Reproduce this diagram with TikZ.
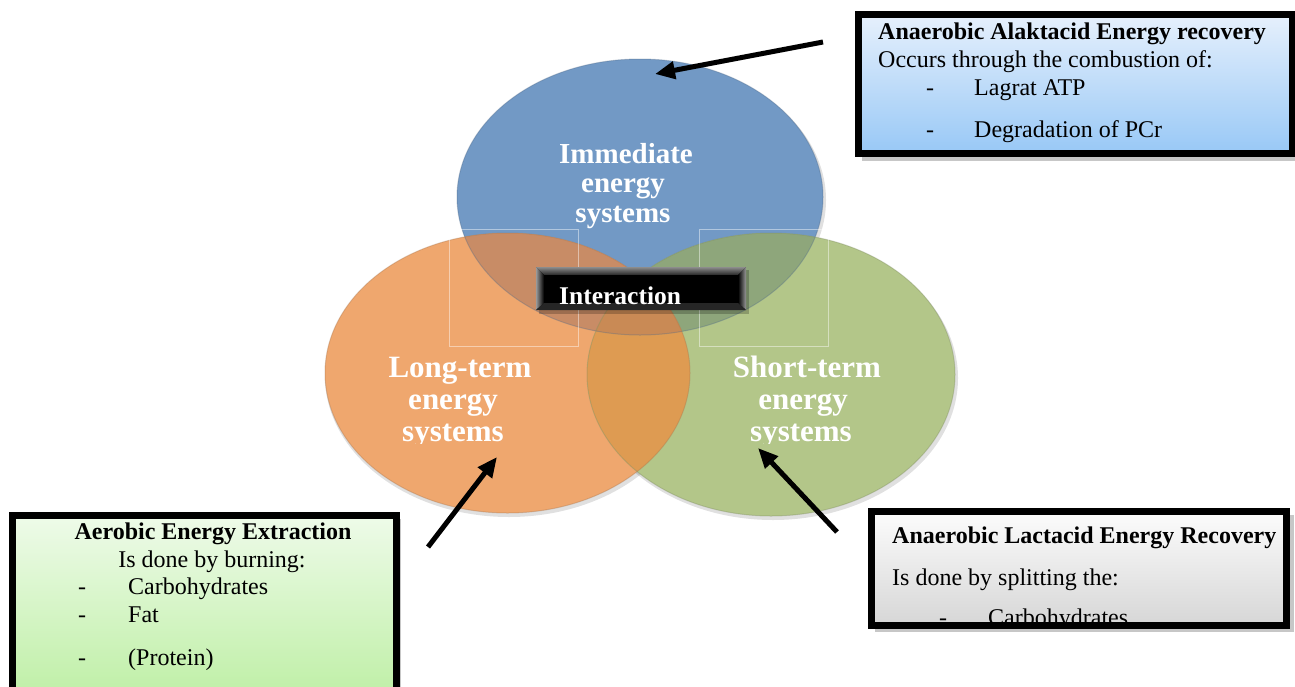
\documentclass[tikz,border=0pt]{standalone}
\usepackage{fontspec}
\setmainfont{Liberation Serif}
\usetikzlibrary{arrows.meta}
\definecolor{cblue}{HTML}{7299C5}
\definecolor{corange}{HTML}{EFA76E}
\definecolor{cgreen}{HTML}{B3C689}
\definecolor{cbo}{HTML}{C88C66}
\definecolor{cbg}{HTML}{8EA67B}
\definecolor{cog}{HTML}{DE9B52}
\definecolor{cbog}{HTML}{C98A55}
\begin{document}
\begin{tikzpicture}[x=1pt,y=-1pt,
  txt/.style={inner sep=0pt, anchor=base west, font=\fontsize{24}{28}\selectfont},
  btxt/.style={inner sep=0pt, anchor=base west, font=\fontsize{24}{28}\selectfont\bfseries},
  ctxt/.style={inner sep=0pt, anchor=base, text=white, font=\fontsize{31}{32}\selectfont\bfseries},
  itxt/.style={inner sep=0pt, anchor=base, text=white, font=\fontsize{29}{30}\selectfont\bfseries},
  arr/.style={line width=5pt, -{Triangle[length=20pt,width=17pt]}},
  frame/.style={line width=7pt, draw=black},
  boxshadow/.style={fill=black, opacity=0.22},
  faint/.style={draw=white, opacity=0.45, line width=0.8pt},
]
\clip (0,0) rectangle (1295,686);
\fill[white] (0,0) rectangle (1295,686);

% ellipse shadows
\fill[black, opacity=0.12] (642,200) ellipse [x radius=184pt, y radius=139pt];
\fill[black, opacity=0.12] (509,376) ellipse [x radius=184pt, y radius=141pt];
\fill[black, opacity=0.12] (773,378) ellipse [x radius=185pt, y radius=142pt];

% base ellipses
\fill[cblue] (640,197) ellipse [x radius=183pt, y radius=138pt];
\fill[corange] (507.5,373) ellipse [x radius=182.5pt, y radius=140pt];
\fill[cgreen] (771,374.5) ellipse [x radius=184pt, y radius=141.5pt];
% overlaps
\begin{scope}
  \clip (507.5,373) ellipse [x radius=182.5pt, y radius=140pt];
  \fill[cbo] (640,197) ellipse [x radius=183pt, y radius=138pt];
\end{scope}
\begin{scope}
  \clip (771,374.5) ellipse [x radius=184pt, y radius=141.5pt];
  \fill[cbg] (640,197) ellipse [x radius=183pt, y radius=138pt];
  \fill[cog] (507.5,373) ellipse [x radius=182.5pt, y radius=140pt];
  \clip (507.5,373) ellipse [x radius=182.5pt, y radius=140pt];
  \fill[cbog] (640,197) ellipse [x radius=183pt, y radius=138pt];
\end{scope}
% outlines
\draw[cblue!70!black, opacity=0.35, line width=1pt] (640,197) ellipse [x radius=183pt, y radius=138pt];
\draw[corange!70!black, opacity=0.35, line width=1pt] (507.5,373) ellipse [x radius=182.5pt, y radius=140pt];
\draw[cgreen!70!black, opacity=0.35, line width=1pt] (771,374.5) ellipse [x radius=184pt, y radius=141.5pt];

% faint frames
\draw[faint] (449,229) rectangle (578,346);
\draw[faint] (699,229) rectangle (828,346);

% ellipse labels
\node[itxt] (im1) at (626,163) {Immediate};
\node[itxt] (im2) at (623,192) {energy};
\node[itxt] (im3) at (623,222) {systems};
\node[ctxt] (lt1) at (460,377) {Long-term};
\node[ctxt] (lt2) at (453,409) {energy};
\node[ctxt] (st1) at (807,377) {Short-term};
\node[ctxt] (st2) at (803,409) {energy};
\begin{scope}
  \clip (0,0) rectangle (1295,443);
  \node[ctxt] (lt3) at (453,441) {systems};
  \node[ctxt] (st3) at (801,441) {systems};
\end{scope}

% interaction box (bevelled)
\fill[boxshadow] (539,270) rectangle (749,314);
\fill[black] (536,267) rectangle (746,310);
\shade[top color=black!45, bottom color=black!85] (536,267) -- (746,267) -- (738,275) -- (544,275) -- cycle;
\shade[left color=black!40, right color=black] (536,267) -- (544,275) -- (544,303) -- (536,310) -- cycle;
\shade[left color=black, right color=black!40] (746,267) -- (746,310) -- (738,303) -- (738,275) -- cycle;
\fill[black!85] (536,310) -- (544,303) -- (738,303) -- (746,310) -- cycle;
\fill[black] (544,275) rectangle (738,303);
\node[inner sep=0pt, anchor=base west, text=white, font=\fontsize{25.5}{27}\selectfont\bfseries] (inter) at (559,304) {Interaction};

% arrows
\coordinate (a1s) at (823,42);
\coordinate (a1e) at (655,74);
\coordinate (a2s) at (428,547);
\coordinate (a2e) at (497,457);
\coordinate (a3s) at (837,532);
\coordinate (a3e) at (758,448);
\draw[arr] (a1s) -- (a1e);
\draw[arr] (a2s) -- (a2e);
\draw[arr] (a3s) -- (a3e);

% top right box
\fill[boxshadow] (862,18) rectangle (1300,161);
\shade[top color={rgb,255:red,230;green,240;blue,252}, bottom color={rgb,255:red,152;green,200;blue,246}] (858.5,14.5) rectangle (1292.5,153.5);
\draw[frame] (858.5,14.5) rectangle (1292.5,153.5);
\node[btxt] (tr1) at (878,39) {Anaerobic Alaktacid Energy recovery};
\node[txt] (tr2) at (878,67) {Occurs through the combustion of:};
\node[txt] (tr3d) at (926,95) {-};
\node[txt] (tr3) at (974,95) {Lagrat ATP};
\node[txt] (tr4d) at (926,137) {-};
\node[txt] (tr4) at (974,137) {Degradation of PCr};

% bottom left box
\fill[boxshadow] (16,519) rectangle (401,700);
\shade[top color={rgb,255:red,238;green,251;blue,233}, bottom color={rgb,255:red,190;green,239;blue,165}] (12.5,515.5) rectangle (396.5,700);
\draw[frame] (12.5,515.5) rectangle (396.5,720);
\node[btxt, anchor=base] (bl1) at (213,539) {Aerobic Energy Extraction};
\node[txt, anchor=base] (bl2) at (212,567) {Is done by burning:};
\node[txt] (bl3d) at (78,594) {-};
\node[txt] (bl3) at (128,594) {Carbohydrates};
\node[txt] (bl4d) at (78,622) {-};
\node[txt] (bl4) at (128,622) {Fat};
\node[txt] (bl5d) at (78,665) {-};
\node[txt] (bl5) at (128,665) {(Protein)};

% bottom right box
\fill[boxshadow] (875,515) rectangle (1294,632);
\shade[top color={rgb,255:red,252;green,252;blue,252}, bottom color={rgb,255:red,214;green,214;blue,214}] (871.5,511.5) rectangle (1286.5,625.5);
\node[btxt] (br1) at (892,543) {Anaerobic Lactacid Energy Recovery};
\node[txt] (br2) at (892,585) {Is done by splitting the:};
\begin{scope}
  \clip (871.5,511.5) rectangle (1286.5,622.5);
  \node[txt] (br3d) at (939,625) {-};
  \node[txt] (br3) at (988,625) {Carbohydrates};
\end{scope}
\draw[frame] (871.5,511.5) rectangle (1286.5,625.5);
\end{tikzpicture}
\end{document}
